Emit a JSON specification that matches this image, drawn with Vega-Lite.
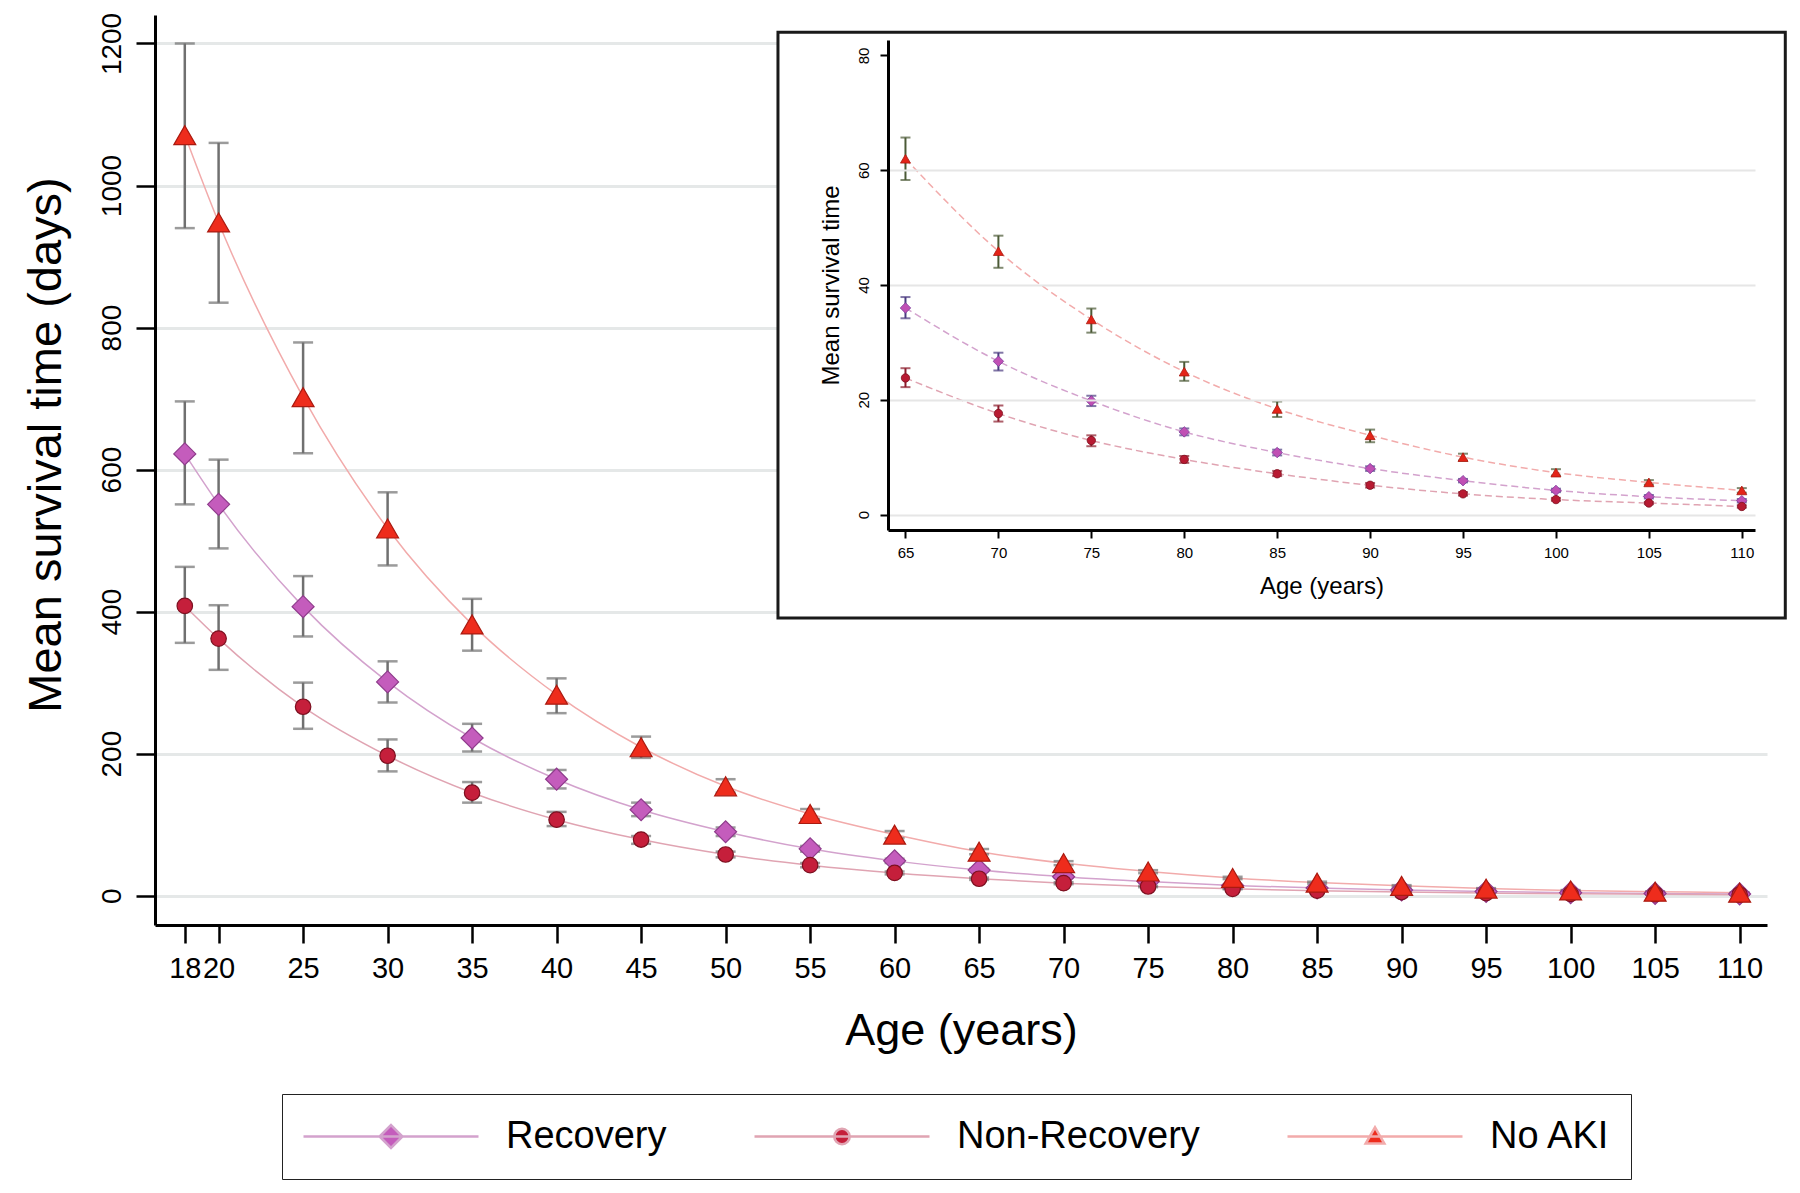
{
  "$schema": "https://vega.github.io/schema/vega-lite/v6.json",
  "width": 1612,
  "height": 910,
  "autosize": {"type": "none"},
  "padding": {"left": 155, "top": 15, "right": 33, "bottom": 268},
  "background": "white",
  "config": {
    "view": {"stroke": null},
    "font": "Liberation Sans",
    "axis": {"labelFont": "Liberation Sans", "titleFont": "Liberation Sans", "labelColor": "black", "titleColor": "black", "titleFontWeight": "normal", "domainColor": "black", "tickColor": "black", "labelFlush": false, "labelOverlap": false},
    "legend": {"symbolOpacity": 1}
  },
  "data": {"values": [
    {"age": 18, "group": "No AKI", "mean": 1071, "lo": 940, "hi": 1200},
    {"age": 20, "group": "No AKI", "mean": 948, "lo": 835, "hi": 1060},
    {"age": 25, "group": "No AKI", "mean": 702, "lo": 623, "hi": 779},
    {"age": 30, "group": "No AKI", "mean": 517, "lo": 465, "hi": 568},
    {"age": 35, "group": "No AKI", "mean": 382, "lo": 345, "hi": 418},
    {"age": 40, "group": "No AKI", "mean": 283, "lo": 257, "hi": 306},
    {"age": 45, "group": "No AKI", "mean": 209, "lo": 194, "hi": 224},
    {"age": 50, "group": "No AKI", "mean": 154, "lo": 145, "hi": 164},
    {"age": 55, "group": "No AKI", "mean": 115, "lo": 108, "hi": 122},
    {"age": 60, "group": "No AKI", "mean": 86, "lo": 81, "hi": 91},
    {"age": 65, "group": "No AKI", "mean": 62.0, "lo": 58.3, "hi": 65.7},
    {"age": 70, "group": "No AKI", "mean": 45.9, "lo": 43.0, "hi": 48.6},
    {"age": 75, "group": "No AKI", "mean": 34.0, "lo": 31.7, "hi": 35.9},
    {"age": 80, "group": "No AKI", "mean": 24.9, "lo": 23.3, "hi": 26.6},
    {"age": 85, "group": "No AKI", "mean": 18.4, "lo": 17.0, "hi": 19.7},
    {"age": 90, "group": "No AKI", "mean": 13.8, "lo": 12.6, "hi": 14.8},
    {"age": 95, "group": "No AKI", "mean": 10.0, "lo": 9.4, "hi": 10.6},
    {"age": 100, "group": "No AKI", "mean": 7.3, "lo": 6.8, "hi": 7.9},
    {"age": 105, "group": "No AKI", "mean": 5.6, "lo": 5.2, "hi": 6.0},
    {"age": 110, "group": "No AKI", "mean": 4.2, "lo": 3.8, "hi": 4.6},
    {"age": 18, "group": "Recovery", "mean": 622, "lo": 551, "hi": 696},
    {"age": 20, "group": "Recovery", "mean": 551, "lo": 489, "hi": 614},
    {"age": 25, "group": "Recovery", "mean": 407, "lo": 365, "hi": 450},
    {"age": 30, "group": "Recovery", "mean": 301, "lo": 272, "hi": 330},
    {"age": 35, "group": "Recovery", "mean": 222, "lo": 203, "hi": 242},
    {"age": 40, "group": "Recovery", "mean": 164, "lo": 151, "hi": 177},
    {"age": 45, "group": "Recovery", "mean": 121, "lo": 112, "hi": 131},
    {"age": 50, "group": "Recovery", "mean": 90, "lo": 84, "hi": 96},
    {"age": 55, "group": "Recovery", "mean": 66, "lo": 62, "hi": 70},
    {"age": 60, "group": "Recovery", "mean": 49, "lo": 46, "hi": 52},
    {"age": 65, "group": "Recovery", "mean": 36.0, "lo": 34.2, "hi": 37.9},
    {"age": 70, "group": "Recovery", "mean": 26.7, "lo": 25.1, "hi": 28.2},
    {"age": 75, "group": "Recovery", "mean": 19.8, "lo": 18.9, "hi": 20.7},
    {"age": 80, "group": "Recovery", "mean": 14.4, "lo": 13.8, "hi": 15.0},
    {"age": 85, "group": "Recovery", "mean": 10.8, "lo": 10.3, "hi": 11.3},
    {"age": 90, "group": "Recovery", "mean": 8.0, "lo": 7.6, "hi": 8.4},
    {"age": 95, "group": "Recovery", "mean": 5.9, "lo": 5.6, "hi": 6.2},
    {"age": 100, "group": "Recovery", "mean": 4.2, "lo": 3.9, "hi": 4.5},
    {"age": 105, "group": "Recovery", "mean": 3.1, "lo": 2.8, "hi": 3.4},
    {"age": 110, "group": "Recovery", "mean": 2.4, "lo": 2.1, "hi": 2.7},
    {"age": 18, "group": "Non-Recovery", "mean": 408, "lo": 356, "hi": 463},
    {"age": 20, "group": "Non-Recovery", "mean": 362, "lo": 318, "hi": 409},
    {"age": 25, "group": "Non-Recovery", "mean": 266, "lo": 235, "hi": 300},
    {"age": 30, "group": "Non-Recovery", "mean": 197, "lo": 175, "hi": 220},
    {"age": 35, "group": "Non-Recovery", "mean": 145, "lo": 131, "hi": 160},
    {"age": 40, "group": "Non-Recovery", "mean": 107, "lo": 98, "hi": 118},
    {"age": 45, "group": "Non-Recovery", "mean": 79, "lo": 73, "hi": 84},
    {"age": 50, "group": "Non-Recovery", "mean": 58, "lo": 54, "hi": 62},
    {"age": 55, "group": "Non-Recovery", "mean": 43, "lo": 40, "hi": 46},
    {"age": 60, "group": "Non-Recovery", "mean": 32, "lo": 30, "hi": 34},
    {"age": 65, "group": "Non-Recovery", "mean": 23.8, "lo": 22.2, "hi": 25.5},
    {"age": 70, "group": "Non-Recovery", "mean": 17.6, "lo": 16.2, "hi": 19.0},
    {"age": 75, "group": "Non-Recovery", "mean": 12.9, "lo": 11.9, "hi": 13.8},
    {"age": 80, "group": "Non-Recovery", "mean": 9.6, "lo": 9.0, "hi": 10.2},
    {"age": 85, "group": "Non-Recovery", "mean": 7.1, "lo": 6.7, "hi": 7.6},
    {"age": 90, "group": "Non-Recovery", "mean": 5.1, "lo": 4.7, "hi": 5.5},
    {"age": 95, "group": "Non-Recovery", "mean": 3.6, "lo": 3.3, "hi": 3.9},
    {"age": 100, "group": "Non-Recovery", "mean": 2.6, "lo": 2.4, "hi": 2.9},
    {"age": 105, "group": "Non-Recovery", "mean": 2.0, "lo": 1.8, "hi": 2.2},
    {"age": 110, "group": "Non-Recovery", "mean": 1.4, "lo": 1.2, "hi": 1.6}
  ]},
  "resolve": {"scale": {"x": "independent", "y": "independent"}},
  "layer": [
    {
      "encoding": {
        "x": {"field": "age", "type": "quantitative",
          "scale": {"domain": [16.237, 111.62], "nice": false, "zero": false},
          "axis": {"values": [18, 20, 25, 30, 35, 40, 45, 50, 55, 60, 65, 70, 75, 80, 85, 90, 95, 100, 105, 110],
            "title": "Age (years)", "titleFontSize": 45, "titleBaseline": "alphabetic", "titleY": 119,
            "labelFontSize": 29, "labelPadding": 11, "tickSize": 18, "tickWidth": 2.5, "domainWidth": 3, "grid": false}}
      },
      "layer": [
        {
          "mark": {"type": "line", "interpolate": "monotone", "strokeWidth": 1.5},
          "encoding": {
            "y": {"field": "mean", "type": "quantitative",
              "scale": {"domain": [-41.3, 1240.1], "nice": false, "zero": false},
              "axis": {"values": [0, 200, 400, 600, 800, 1000, 1200], "format": "d", "title": "Mean survival time (days)",
                "titleFontSize": 47, "titleBaseline": "alphabetic", "titleX": -95, "titleY": 429.5, "titleAlign": "center",
                "labelAngle": -90, "labelAlign": "center", "labelBaseline": "bottom", "labelFontSize": 28, "labelPadding": 10,
                "tickSize": 19, "tickWidth": 2.5, "domainWidth": 3, "grid": true, "gridColor": "#e5e8e8", "gridWidth": 3}},
            "stroke": {"field": "group", "type": "nominal",
              "scale": {"domain": ["Recovery", "Non-Recovery", "No AKI"], "range": ["#d3a2cd", "#e0a4b2", "#f2abab"]}}
          }
        },
        {
          "mark": {"type": "rule", "color": "#707070", "strokeWidth": 2.5},
          "encoding": {"y": {"field": "lo", "type": "quantitative"}, "y2": {"field": "hi"}}
        },
        {
          "mark": {"type": "tick", "orient": "horizontal", "size": 20, "thickness": 2.5, "color": "#707070"},
          "encoding": {"y": {"field": "lo", "type": "quantitative"}}
        },
        {
          "mark": {"type": "tick", "orient": "horizontal", "size": 20, "thickness": 2.5, "color": "#707070"},
          "encoding": {"y": {"field": "hi", "type": "quantitative"}}
        },
        {
          "transform": [{"filter": "datum.group === 'Recovery'"}],
          "mark": {"type": "point", "shape": "diamond", "size": 484, "filled": true, "fill": "#c45cbc", "stroke": "#8f3c8c", "strokeWidth": 1.2, "opacity": 1},
          "encoding": {"y": {"field": "mean", "type": "quantitative"}}
        },
        {
          "transform": [{"filter": "datum.group === 'Non-Recovery'"}],
          "mark": {"type": "point", "shape": "circle", "size": 240, "filled": true, "fill": "#c51f3b", "stroke": "#7c1020", "strokeWidth": 1.2, "opacity": 1},
          "encoding": {"y": {"field": "mean", "type": "quantitative"}}
        },
        {
          "transform": [{"filter": "datum.group === 'No AKI'"}],
          "mark": {"type": "point", "shape": "triangle-up", "size": 480, "filled": true, "fill": "#ee2c1c", "stroke": "#aa1a10", "strokeWidth": 1.2, "opacity": 1},
          "encoding": {"y": {"field": "mean", "type": "quantitative"}}
        },
        {
          "mark": {"type": "point", "filled": true, "opacity": 0},
          "encoding": {
            "y": {"field": "mean", "type": "quantitative"},
            "shape": {"field": "group", "type": "nominal",
              "scale": {"domain": ["Recovery", "Non-Recovery", "No AKI"],
                "range": ["M-1,0H1M0,-0.13L0.13,0L0,0.13L-0.13,0Z",
                          "M-1,0H1M-0.088,0A0.088,0.088,0,1,1,0.088,0A0.088,0.088,0,1,1,-0.088,0Z",
                          "M-1,0H1M0,-0.105L0.106,0.08L-0.106,0.08Z"]},
              "legend": {"title": null, "orient": "none", "legendX": 127, "legendY": 1079, "direction": "horizontal", "columns": 3,
                "symbolSize": 30625, "clipHeight": 45, "labelOffset": 26, "columnPadding": 86, "padding": 20,
                "strokeColor": "#222222", "labelFontSize": 38, "labelFont": "Liberation Sans", "labelColor": "black",
                "symbolStrokeWidth": 2.6, "symbolOpacity": 1, "labelLimit": 0}},
            "fill": {"field": "group", "type": "nominal",
              "scale": {"domain": ["Recovery", "Non-Recovery", "No AKI"], "range": ["#c45cbc", "#c51f3b", "#ee2c1c"]},
              "legend": {"title": null, "orient": "none", "legendX": 127, "legendY": 1079, "direction": "horizontal", "columns": 3,
                "symbolSize": 30625, "clipHeight": 45, "labelOffset": 26, "columnPadding": 86, "padding": 20,
                "strokeColor": "#222222", "labelFontSize": 38, "labelFont": "Liberation Sans", "labelColor": "black",
                "symbolStrokeWidth": 2.6, "symbolOpacity": 1, "labelLimit": 0}},
            "stroke": {"field": "group", "type": "nominal",
              "legend": {"title": null, "orient": "none", "legendX": 127, "legendY": 1079, "direction": "horizontal", "columns": 3,
                "symbolSize": 30625, "clipHeight": 45, "labelOffset": 26, "columnPadding": 86, "padding": 20,
                "strokeColor": "#222222", "labelFontSize": 38, "labelFont": "Liberation Sans", "labelColor": "black",
                "symbolStrokeWidth": 2.6, "symbolOpacity": 1, "labelLimit": 0}}
          }
        }
      ]
    },
    {
      "layer": [
        {
          "data": {"values": [{"frame": 1}]},
          "mark": {"type": "rect", "fill": "white", "stroke": "#1a1a1a", "strokeWidth": 3},
          "encoding": {
            "x": {"datum": 58.14, "type": "quantitative", "scale": {"domain": [64.06, 110.71], "range": [733, 1600], "nice": false, "zero": false}},
            "x2": {"datum": 112.34},
            "y": {"datum": 84.06, "type": "quantitative", "scale": {"domain": [-2.7, 82.7], "range": [515, 25], "nice": false, "zero": false}},
            "y2": {"datum": -18.03}
          }
        },
        {
          "transform": [{"filter": "datum.age >= 65"}],
          "mark": {"type": "line", "interpolate": "monotone", "strokeWidth": 1.5, "strokeDash": [7, 4]},
          "encoding": {
            "x": {"field": "age", "type": "quantitative",
              "scale": {"domain": [64.06, 110.71], "range": [733, 1600], "nice": false, "zero": false},
              "axis": {"orient": "bottom", "offset": -395, "values": [65, 70, 75, 80, 85, 90, 95, 100, 105, 110],
                "title": "Age (years)", "titleFontSize": 24, "titleBaseline": "alphabetic", "titleY": 63,
                "labelFontSize": 15, "labelPadding": 7, "tickSize": 8, "tickWidth": 2, "domainWidth": 3, "grid": false, "zindex": 1}},
            "y": {"field": "mean", "type": "quantitative",
              "scale": {"domain": [-2.7, 82.7], "range": [515, 25], "nice": false, "zero": false},
              "axis": {"orient": "left", "offset": -733, "values": [0, 20, 40, 60, 80],
                "title": "Mean survival time", "titleFontSize": 24, "titleBaseline": "alphabetic", "titleX": -50,
                "labelAngle": -90, "labelAlign": "center", "labelBaseline": "bottom", "labelFontSize": 15, "labelPadding": 9,
                "tickSize": 8, "tickWidth": 2, "domainWidth": 3, "grid": true, "gridColor": "#e6e6e6", "gridWidth": 2,
                "gridOpacity": {"condition": {"test": "datum.value >= 80", "value": 0}, "value": 1}, "zindex": 1}},
            "stroke": {"field": "group", "type": "nominal"}
          }
        },
        {
          "transform": [{"filter": "datum.age >= 65"}],
          "mark": {"type": "rule", "strokeWidth": 2},
          "encoding": {
            "x": {"field": "age", "type": "quantitative"},
            "y": {"field": "lo", "type": "quantitative"}, "y2": {"field": "hi"},
            "color": {"field": "group", "type": "nominal",
              "scale": {"domain": ["Recovery", "Non-Recovery", "No AKI"], "range": ["#4b3c80", "#8c1c2c", "#4b5a36"]},
              "legend": null}
          }
        },
        {
          "transform": [{"filter": "datum.age >= 65"}],
          "mark": {"type": "tick", "orient": "horizontal", "size": 10, "thickness": 2},
          "encoding": {
            "x": {"field": "age", "type": "quantitative"},
            "y": {"field": "lo", "type": "quantitative"},
            "color": {"field": "group", "type": "nominal", "legend": null}
          }
        },
        {
          "transform": [{"filter": "datum.age >= 65"}],
          "mark": {"type": "tick", "orient": "horizontal", "size": 10, "thickness": 2},
          "encoding": {
            "x": {"field": "age", "type": "quantitative"},
            "y": {"field": "hi", "type": "quantitative"},
            "color": {"field": "group", "type": "nominal", "legend": null}
          }
        },
        {
          "transform": [{"filter": "datum.age >= 65 && datum.group === 'Recovery'"}],
          "mark": {"type": "point", "shape": "diamond", "size": 110, "filled": true, "fill": "#c050b4", "stroke": "#7a3a9a", "strokeWidth": 0.8, "opacity": 1},
          "encoding": {"x": {"field": "age", "type": "quantitative"}, "y": {"field": "mean", "type": "quantitative"}}
        },
        {
          "transform": [{"filter": "datum.age >= 65 && datum.group === 'Non-Recovery'"}],
          "mark": {"type": "point", "shape": "circle", "size": 70, "filled": true, "fill": "#b81a32", "stroke": "#7c1020", "strokeWidth": 0.8, "opacity": 1},
          "encoding": {"x": {"field": "age", "type": "quantitative"}, "y": {"field": "mean", "type": "quantitative"}}
        },
        {
          "transform": [{"filter": "datum.age >= 65 && datum.group === 'No AKI'"}],
          "mark": {"type": "point", "shape": "triangle-up", "size": 100, "filled": true, "fill": "#e42418", "stroke": "#aa1a10", "strokeWidth": 0.8, "opacity": 1},
          "encoding": {"x": {"field": "age", "type": "quantitative"}, "y": {"field": "mean", "type": "quantitative"}}
        }
      ]
    }
  ]
}
